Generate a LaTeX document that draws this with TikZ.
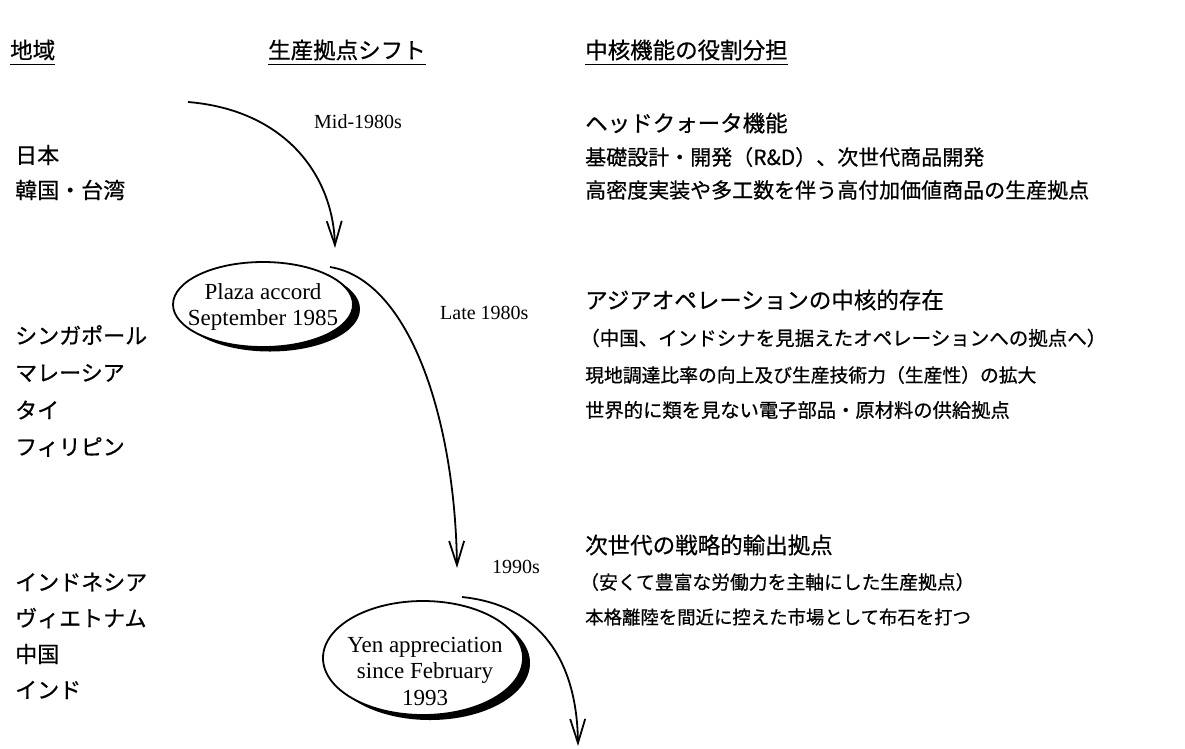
\documentclass[tikz,border=0pt]{standalone}
\usepackage{fontspec}
\setmainfont{Liberation Serif}
\newfontfamily\jp{Noto Sans CJK JP}[FakeBold=0.6]
\usetikzlibrary{arrows.meta}
\begin{document}
\begin{tikzpicture}[x=1pt,y=-1pt,
  hdr/.style={anchor=west,inner sep=0pt,font=\jp\fontsize{22.5}{26}\selectfont},
  region/.style={anchor=west,inner sep=0pt,font=\jp\fontsize{22}{26}\selectfont},
  rolehead/.style={anchor=west,inner sep=0pt,font=\jp\fontsize{22.5}{26}\selectfont},
  roleitem/.style={anchor=west,inner sep=0pt,font=\jp\fontsize{18.8}{23}\selectfont},
  roleitemwide/.style={anchor=west,inner sep=0pt,font=\jp\fontsize{21}{24}\selectfont},
  period/.style={anchor=west,inner sep=0pt,font=\fontsize{20}{24}\selectfont},
  eventtext/.style={align=center,inner sep=0pt,font=\fontsize{23}{26.5}\selectfont},
  eventshape/.style={draw=black,line width=1.8pt,fill=white},
  shadowfill/.style={fill=black},
  shiftarrow/.style={line width=1.8pt,-{Straight Barb[length=24pt,width=15pt,line width=1.8pt]}},
  uline/.style={line width=1.3pt}
]
\useasboundingbox[fill=white] (0,0) rectangle (1185,748);

% headers
\node[hdr] (h1) at (10,50) {地域};
\node[hdr] (h2) at (268,50) {生産拠点シフト};
\node[hdr] (h3) at (585,50) {中核機能の役割分担};
\draw[uline] ([yshift=-4pt]h1.south west) -- ([yshift=-4pt]h1.south east);
\draw[uline] ([yshift=-4pt]h2.south west) -- ([yshift=-4pt]h2.south east);
\draw[uline] ([yshift=-4pt]h3.south west) -- ([yshift=-4pt]h3.south east);

% regions
\node[region] (r1) at (15,155) {日本};
\node[region] (r2) at (15,190) {韓国・台湾};
\node[region] (r3) at (15,335) {シンガポール};
\node[region] (r4) at (15,373) {マレーシア};
\node[region] (r5) at (15,410) {タイ};
\node[region] (r6) at (15,447) {フィリピン};
\node[region] (r7) at (15,582) {インドネシア};
\node[region] (r8) at (15,618) {ヴィエトナム};
\node[region] (r9) at (15,654) {中国};
\node[region] (r10) at (15,690) {インド};

% roles
\node[rolehead] (a1) at (585,123) {ヘッドクォータ機能};
\node[roleitemwide] (a2) at (585,157) {基礎設計・開発（R\&D）、次世代商品開発};
\node[roleitemwide] (a3) at (585,190) {高密度実装や多工数を伴う高付加価値商品の生産拠点};
\node[rolehead] (b1) at (585,300) {アジアオペレーションの中核的存在};
\node[roleitem, font=\jp\fontsize{19.5}{23}\selectfont] (b2) at (580,338) {（中国、インドシナを見据えたオペレーションへの拠点へ）};
\node[roleitem] (b3) at (585,375) {現地調達比率の向上及び生産技術力（生産性）の拡大};
\node[roleitem, font=\jp\fontsize{19.3}{23}\selectfont] (b4) at (585,410) {世界的に類を見ない電子部品・原材料の供給拠点};
\node[rolehead] (c1) at (585,545) {次世代の戦略的輸出拠点};
\node[roleitem] (c2) at (580,582) {（安くて豊富な労働力を主軸にした生産拠点）};
\node[roleitem, font=\jp\fontsize{18.4}{23}\selectfont] (c3) at (585,617) {本格離陸を間近に控えた市場として布石を打つ};

% periods
\node[period] (p1) at (314,122) {Mid-1980s};
\node[period] (p2) at (440,313) {Late 1980s};
\node[period] (p3) at (492,567) {1990s};

% events with shadows
\fill[shadowfill] (270,309) ellipse [x radius=90pt, y radius=42.5pt];
\path[eventshape] (263,304.5) ellipse [x radius=90pt, y radius=42.5pt];
\node[eventtext] (e1) at (263,307) {Plaza accord\\September 1985};
\fill[shadowfill] (430,663) ellipse [x radius=100pt, y radius=57pt];
\path[eventshape] (423,658) ellipse [x radius=100pt, y radius=57pt];
\node[eventtext] (e2) at (425,671) {Yen appreciation\\since February\\1993};

% shift arrows
\coordinate (s1) at (188,102);
\coordinate (t1) at (335,248);
\coordinate (s2) at (330,267);
\coordinate (t2) at (457,568);
\coordinate (s3) at (462,597);
\coordinate (t3) at (578,746);
\draw[shiftarrow] (s1) .. controls (285,110) and (333,175) .. (t1);
\draw[shiftarrow] (s2) .. controls (410,280) and (455,420) .. (t2);
\draw[shiftarrow] (s3) .. controls (540,605) and (577,660) .. (t3);
\end{tikzpicture}
\end{document}
